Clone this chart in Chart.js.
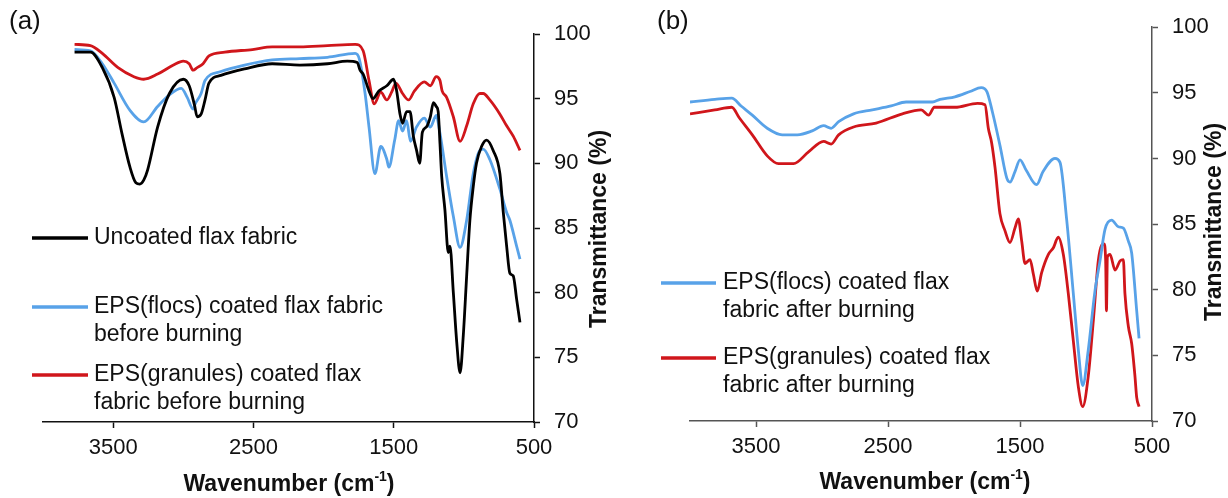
<!DOCTYPE html>
<html>
<head>
<meta charset="utf-8">
<script src="https://cdn.jsdelivr.net/npm/chart.js@4.4.1/dist/chart.umd.min.js"></script>
<style>
  html, body { margin: 0; padding: 0; background: #fff; }
  #wrap { position: relative; width: 1228px; height: 498px; }
  .panel { position: absolute; top: 0; width: 614px; height: 498px; }
</style>
</head>
<body>
<div id="wrap">
  <div class="panel" style="left:0"><canvas id="chartA" width="614" height="498"></canvas></div>
  <div class="panel" style="left:614px"><canvas id="chartB" width="614" height="498"></canvas></div>
</div>
<script>
// axis ticks
var xTicks = [3500, 2500, 1500, 500];
var yTicks = [70, 75, 80, 85, 90, 95, 100];

// (a) uncoated flax fabric
var uncoatedWn = [3775, 3662, 3577, 3493, 3437, 3380, 3338, 3310, 3282, 3254, 3183, 3099, 3000, 2958, 2920, 2901, 2873, 2845, 2817, 2732, 2563, 2366, 2169, 1972, 1831, 1760, 1740, 1718, 1676, 1648, 1606, 1549, 1501, 1479, 1455, 1437, 1408, 1384, 1360, 1337, 1315, 1296, 1268, 1239, 1217, 1197, 1183, 1170, 1158, 1135, 1111, 1099, 1075, 1051, 1027, 1004, 980, 957, 933, 910, 874, 838, 791, 743, 719, 695, 672, 648, 624, 600];
var uncoatedT = [98.6, 98.6, 97.4, 95.1, 92.3, 89.7, 88.5, 88.4, 88.7, 89.5, 92.8, 95.4, 96.5, 96.0, 94.5, 93.6, 93.8, 94.9, 96.2, 96.8, 97.3, 97.7, 97.6, 97.7, 97.9, 97.8, 97.2, 96.9, 95.6, 95.0, 95.6, 96.0, 96.5, 95.6, 93.8, 93.1, 94.0, 94.0, 92.1, 91.0, 90.0, 92.4, 92.8, 93.6, 94.7, 94.4, 94.0, 91.5, 89.0, 86.4, 83.1, 83.6, 80.0, 76.2, 73.8, 76.7, 81.3, 85.6, 88.2, 90.0, 91.3, 91.8, 91.0, 89.2, 86.2, 83.6, 81.5, 81.3, 79.5, 77.7];

// (a) EPS(flocs) before burning
var flocsBeforeWn = [3775, 3662, 3577, 3493, 3380, 3282, 3183, 3099, 3014, 2972, 2930, 2915, 2873, 2845, 2732, 2563, 2366, 2169, 1972, 1775, 1746, 1704, 1676, 1634, 1592, 1549, 1535, 1493, 1465, 1437, 1408, 1380, 1338, 1282, 1239, 1197, 1170, 1123, 1075, 1027, 980, 933, 886, 862, 815, 743, 695, 672, 624, 600];
var flocsBeforeT = [98.8, 98.7, 97.7, 96.2, 94.1, 93.2, 94.4, 95.3, 95.8, 95.1, 94.2, 94.6, 95.4, 96.4, 97.1, 97.6, 98.0, 98.1, 98.2, 98.5, 98.1, 95.4, 92.8, 89.2, 91.3, 90.3, 89.7, 91.8, 93.3, 92.5, 93.3, 91.7, 92.8, 93.5, 92.8, 93.7, 92.3, 89.0, 85.9, 83.5, 85.6, 89.2, 91.0, 91.1, 90.3, 88.0, 86.2, 85.6, 83.6, 82.6];

// (a) EPS(granules) before burning
var granBeforeWn = [3775, 3662, 3577, 3465, 3352, 3282, 3183, 3070, 3000, 2958, 2930, 2901, 2859, 2817, 2704, 2507, 2366, 2169, 1972, 1775, 1718, 1676, 1639, 1592, 1549, 1515, 1484, 1437, 1394, 1352, 1282, 1239, 1197, 1170, 1155, 1123, 1075, 1027, 980, 933, 886, 862, 815, 743, 695, 648, 600];
var granBeforeT = [99.2, 99.1, 98.5, 97.4, 96.7, 96.5, 96.9, 97.6, 97.9, 97.7, 97.2, 97.4, 97.7, 98.3, 98.6, 98.8, 99.0, 99.0, 99.1, 99.2, 98.7, 96.4, 94.6, 95.5, 94.9, 95.5, 96.2, 95.4, 94.9, 95.6, 96.3, 96.0, 96.7, 96.4, 95.6, 95.1, 93.6, 91.7, 92.9, 94.6, 95.4, 95.4, 94.9, 93.8, 92.9, 92.1, 91.0];

// (b) EPS(flocs) after burning
var flocsAfterWn = [4000, 3812, 3684, 3613, 3528, 3415, 3301, 3187, 3074, 2988, 2931, 2874, 2761, 2619, 2476, 2363, 2220, 2163, 2106, 1993, 1879, 1794, 1751, 1708, 1652, 1600, 1576, 1538, 1500, 1453, 1374, 1325, 1235, 1197, 1146, 1096, 1058, 1025, 983, 932, 894, 856, 806, 755, 717, 679, 654, 616, 598];
var flocsAfterT = [94.3, 94.5, 94.6, 94.0, 93.3, 92.3, 91.8, 91.8, 92.1, 92.5, 92.3, 92.8, 93.4, 93.7, 94.0, 94.3, 94.3, 94.3, 94.5, 94.7, 95.1, 95.4, 95.1, 93.5, 91.0, 88.5, 88.2, 89.0, 89.9, 89.1, 88.0, 89.0, 90.0, 89.7, 85.3, 79.7, 75.4, 72.7, 75.4, 79.9, 82.2, 84.6, 85.3, 84.8, 84.7, 83.7, 82.8, 78.4, 76.3];

// (b) EPS(granules) after burning
var granAfterWn = [4000, 3812, 3684, 3627, 3528, 3415, 3329, 3216, 3102, 2988, 2931, 2874, 2761, 2590, 2391, 2249, 2192, 2149, 1993, 1822, 1765, 1740, 1715, 1689, 1652, 1614, 1576, 1538, 1513, 1487, 1462, 1424, 1399, 1369, 1336, 1285, 1247, 1210, 1172, 1134, 1096, 1058, 1025, 983, 944, 907, 881, 864, 851, 845, 838, 818, 780, 742, 717, 705, 679, 654, 629, 616, 598];
var granAfterT = [93.4, 93.7, 93.9, 93.1, 91.8, 90.2, 89.6, 89.6, 90.5, 91.3, 91.1, 91.8, 92.4, 92.7, 93.4, 93.7, 93.3, 93.9, 93.9, 94.2, 94.1, 92.3, 91.2, 89.3, 85.8, 84.5, 83.6, 84.7, 85.4, 83.7, 82.0, 82.3, 81.2, 79.9, 81.3, 82.7, 83.2, 84.0, 82.7, 79.7, 76.1, 72.6, 71.1, 73.4, 77.7, 82.2, 83.4, 83.5, 82.2, 78.4, 82.5, 82.7, 81.5, 82.2, 82.3, 79.7, 77.2, 75.9, 73.4, 71.8, 71.1];

var FONT = '"Liberation Sans", Arial, sans-serif';
var BLACK = '#000000';
var BLUE = '#58a2e8';
var RED = '#d0161b';

// wavenumber + transmittance -> points
function toPoints(wn, t) {
    var pts = [];
    for (var i = 0; i < wn.length; i++) {
        pts.push({ x: wn[i], y: t[i] });
    }
    return pts;
}

function makeSet(label, color, wn, t) {
    return {
        label: label,
        data: toPoints(wn, t),
        borderColor: color,
        backgroundColor: color,
        borderWidth: 2.8,
        pointRadius: 0,
        fill: false,
        cubicInterpolationMode: 'monotone'
    };
}

// axis titles, panel letter and legend drawn on canvas
var ftirText = {
    id: 'ftirText',
    afterDraw: function(chart, args, o) {
        var ctx = chart.ctx;
        ctx.save();
        ctx.fillStyle = '#111';
        ctx.textBaseline = 'middle';

        // (a) / (b)
        ctx.font = '26px ' + FONT;
        ctx.textAlign = 'left';
        ctx.fillText(o.letter, o.letterX, o.letterY);

        // Wavenumber (cm-1)
        ctx.font = 'bold 23px ' + FONT;
        var t1 = 'Wavenumber (cm', sup = '-1', t2 = ')';
        var w1 = ctx.measureText(t1).width;
        var w3 = ctx.measureText(t2).width;
        ctx.font = 'bold 14px ' + FONT;
        var w2 = ctx.measureText(sup).width;
        var start = o.xTitleX - (w1 + w2 + w3) / 2;
        ctx.font = 'bold 23px ' + FONT;
        ctx.fillText(t1, start, o.xTitleY);
        ctx.fillText(t2, start + w1 + w2, o.xTitleY);
        ctx.font = 'bold 14px ' + FONT;
        ctx.fillText(sup, start + w1, o.xTitleY - 8);

        // Transmittance (%)
        ctx.save();
        ctx.font = 'bold 23px ' + FONT;
        ctx.translate(o.yTitleX, o.yTitleY);
        ctx.rotate(-Math.PI / 2);
        ctx.textAlign = 'center';
        ctx.fillText('Transmittance (%)', 0, 0);
        ctx.restore();

        // legend
        ctx.font = '23px ' + FONT;
        ctx.textAlign = 'left';
        chart.data.datasets.forEach(function(ds, i) {
            var y = o.legendY[i];
            ctx.strokeStyle = ds.borderColor;
            ctx.lineWidth = 3.5;
            ctx.beginPath();
            ctx.moveTo(o.lineX0, y);
            ctx.lineTo(o.lineX1, y);
            ctx.stroke();
            ds.label.split('\n').forEach(function(line, k) {
                ctx.fillText(line, o.textX, y + k * 28);
            });
        });
        ctx.restore();
    }
};

function makeChart(id, datasets, lay, txt) {
    return new Chart(document.getElementById(id), {
        type: 'line',
        data: { datasets: datasets },
        plugins: [ftirText],
        options: {
            responsive: false,
            animation: false,
            devicePixelRatio: 1,
            layout: { padding: { left: lay.left, top: lay.top, right: 0, bottom: 0 } },
            plugins: {
                legend: { display: false },
                tooltip: { enabled: false },
                ftirText: txt
            },
            scales: {
                x: {
                    type: 'linear',
                    reverse: true,
                    min: 500,
                    max: 4000,
                    afterBuildTicks: function(s) { s.ticks = xTicks.map(function(v) { return { value: v }; }); },
                    afterFit: function(s) { s.height = lay.xh; },
                    grid: { drawOnChartArea: false, drawTicks: true, tickLength: 6, tickWidth: 1.5, color: lay.axisColor },
                    border: { display: true, color: lay.axisColor, width: 1.5 },
                    ticks: {
                        color: '#111', font: { size: 22, family: FONT }, padding: 7, maxRotation: 0, autoSkip: false,
                        callback: function(v) { return String(v); }
                    }
                },
                y: {
                    position: 'right',
                    min: 70,
                    max: 100,
                    afterBuildTicks: function(s) { s.ticks = yTicks.map(function(v) { return { value: v }; }); },
                    afterFit: function(s) { s.width = lay.yw; },
                    grid: { drawOnChartArea: false, drawTicks: true, tickLength: 6, tickWidth: 1.5, color: lay.axisColor },
                    border: { display: true, color: lay.axisColor, width: 1.5 },
                    ticks: { color: '#111', font: { size: 22, family: FONT }, padding: 14 }
                }
            }
        }
    });
}

makeChart('chartA', [
    makeSet('Uncoated flax fabric', BLACK, uncoatedWn, uncoatedT),
    makeSet('EPS(flocs) coated flax fabric\nbefore burning', BLUE, flocsBeforeWn, flocsBeforeT),
    makeSet('EPS(granules) coated flax\nfabric before burning', RED, granBeforeWn, granBeforeT)
], { left: 43, top: 34, xh: 76, yw: 80, axisColor: '#111' }, {
    letter: '(a)', letterX: 9, letterY: 22,
    xTitleX: 289, xTitleY: 485,
    yTitleX: 600, yTitleY: 229,
    lineX0: 32, lineX1: 88, textX: 94, legendY: [238, 307, 375]
});

makeChart('chartB', [
    makeSet('EPS(flocs) coated flax\nfabric after burning', BLUE, flocsAfterWn, flocsAfterT),
    makeSet('EPS(granules) coated flax\nfabric after burning', RED, granAfterWn, granAfterT)
], { left: 76, top: 25, xh: 77, yw: 76, axisColor: '#555' }, {
    letter: '(b)', letterX: 43, letterY: 22,
    xTitleX: 311, xTitleY: 483,
    yTitleX: 601, yTitleY: 222,
    lineX0: 47, lineX1: 102, textX: 109, legendY: [283, 358]
});
</script>
</body>
</html>
